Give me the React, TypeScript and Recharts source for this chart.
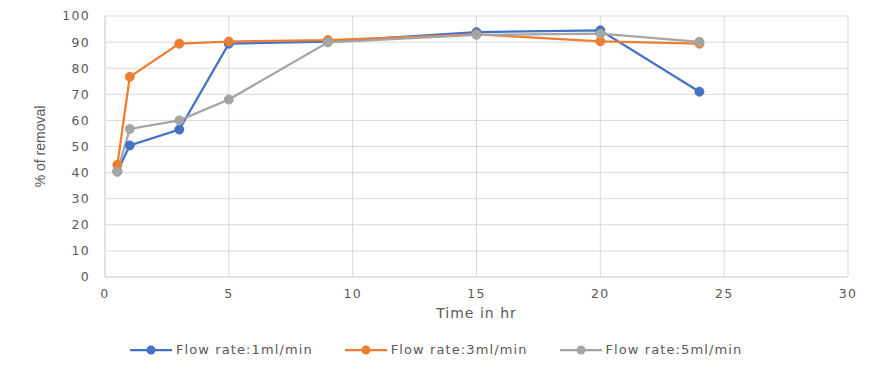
import {
  LineChart,
  Line,
  CartesianGrid,
  XAxis,
  YAxis,
} from "recharts";

const hours = [0.5, 1, 3, 5, 9, 15, 20, 24];
const flow1 = [40.5, 50.4, 56.5, 89.4, 90.2, 93.8, 94.5, 71];
const flow3 = [43, 76.7, 89.4, 90.2, 90.8, 93, 90.3, 89.4];
const flow5 = [40.3, 56.7, 60, 68, 89.9, 92.8, 93.2, 90.1];
const xTicks = [0, 5, 10, 15, 20, 25, 30];
const yTicks = [0, 10, 20, 30, 40, 50, 60, 70, 80, 90, 100];

const series = [
  { key: "f1", name: "Flow rate:1ml/min", color: "#4472C4" },
  { key: "f3", name: "Flow rate:3ml/min", color: "#ED7D31" },
  { key: "f5", name: "Flow rate:5ml/min", color: "#A5A5A5" },
];

const data = hours.map((h, i) => ({
  hr: h,
  f1: flow1[i],
  f3: flow3[i],
  f5: flow5[i],
}));

const tickFont = {
  fontFamily: "DejaVu Sans",
  fontSize: 12.5,
  letterSpacing: 1.3,
  fill: "#595959",
};

export default function App() {
  return (
    <div
      style={{
        position: "relative",
        width: 882,
        height: 371,
        margin: -8,
        boxSizing: "border-box",
        border: "1px solid #d9d9d9",
        background: "#fff",
      }}
    >
      <LineChart
        width={880}
        height={369}
        data={data}
        margin={{ top: 15, right: 33, left: 0, bottom: 0 }}
      >
        <CartesianGrid stroke="#d9d9d9" strokeWidth={1} />
        <XAxis
          dataKey="hr"
          type="number"
          domain={[0, 30]}
          ticks={xTicks}
          height={93}
          tickLine={false}
          axisLine={{ stroke: "#d9d9d9" }}
          tickSize={0}
          tickMargin={12}
          tick={tickFont}
          label={{
            value: "Time in hr",
            position: "insideTop",
            offset: 31,
            style: {
              fontFamily: "DejaVu Sans",
              fontSize: 14,
              letterSpacing: 1,
              fill: "#595959",
            },
          }}
        />
        <YAxis
          type="number"
          domain={[0, 100]}
          ticks={yTicks}
          width={104}
          tickLine={false}
          axisLine={{ stroke: "#d9d9d9" }}
          tickSize={0}
          tickMargin={15}
          tick={tickFont}
          label={{
            value: "% of removal",
            angle: -90,
            position: "insideLeft",
            offset: 39,
            style: {
              textAnchor: "middle",
              fontFamily: "Liberation Sans Narrow, Liberation Sans",
              fontSize: 14,
              fill: "#595959",
            },
          }}
        />
        {series.map((s) => (
          <Line
            key={s.key}
            dataKey={s.key}
            name={s.name}
            stroke={s.color}
            strokeWidth={2.25}
            dot={{ r: 4.5, fill: s.color, stroke: s.color, strokeWidth: 1 }}
            isAnimationActive={false}
          />
        ))}
      </LineChart>
      <div
        style={{
          position: "absolute",
          top: 341,
          left: 128,
          display: "flex",
          alignItems: "center",
          fontFamily: "DejaVu Sans",
          fontSize: 13,
          letterSpacing: 1.1,
          color: "#595959",
        }}
      >
        {series.map((s) => (
          <div
            key={s.key}
            style={{ display: "flex", alignItems: "center", marginRight: 31 }}
          >
            <svg width={44} height={12} style={{ marginRight: 3 }}>
              <line x1={1} y1={6} x2={43} y2={6} stroke={s.color} strokeWidth={2.25} />
              <circle cx={22} cy={6} r={4.5} fill={s.color} />
            </svg>
            <span>{s.name}</span>
          </div>
        ))}
      </div>
    </div>
  );
}
